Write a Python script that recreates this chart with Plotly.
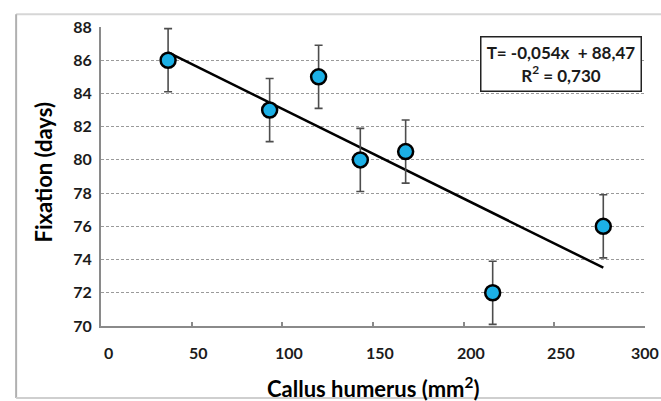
import plotly.graph_objects as go

# ---- data ----
callus_mm2 = [37, 93, 120, 143, 168, 216, 277]
fixation_days = [86.0, 83.0, 85.0, 80.0, 80.5, 72.0, 76.0]
error_days = [1.9, 1.9, 1.9, 1.9, 1.9, 1.9, 1.9]
fit_slope = -0.054
fit_intercept = 88.47
fit_r2 = 0.730
x_ticks = [0, 50, 100, 150, 200, 250, 300]
y_ticks = [70, 72, 74, 76, 78, 80, 82, 84, 86, 88]

FONT = "Lato"
TXT = "#1b1b1b"

fit_x = [min(callus_mm2), max(callus_mm2)]
fit_y = [fit_intercept + fit_slope * v for v in fit_x]

fig = go.Figure()
fig.add_trace(go.Scatter(
    x=fit_x, y=fit_y, mode="lines",
    line=dict(color="black", width=2.5), showlegend=False, hoverinfo="skip"))
fig.add_trace(go.Scatter(
    x=callus_mm2, y=fixation_days, mode="markers",
    marker=dict(size=15, color="#1cb0e6", line=dict(color="black", width=2.5)),
    error_y=dict(type="data", array=error_days, visible=True,
                 color="#4d4d4d", thickness=1.6, width=4),
    showlegend=False))

eq_text = (f"T= {fit_slope:.3f}x  + {fit_intercept:.2f}".replace(".", ",")
           + "<br>R<sup>2</sup> = " + f"{fit_r2:.3f}".replace(".", ","))

fig.add_annotation(
    xref="paper", yref="paper", x=0.8465, y=0.8746,
    xanchor="center", yanchor="middle",
    text=eq_text, showarrow=False, align="center",
    font=dict(family=FONT, size=17, color=TXT, weight="bold"),
    bordercolor="#222", borderwidth=1.5, borderpad=2, bgcolor="white",
    width=155, height=49)

# x tick labels drawn as annotations (shifted right like the reference)
for v in x_ticks:
    fig.add_annotation(
        x=v, y=0, xref="x", yref="paper", yshift=-26,
        xshift=7 if v < max(x_ticks) else 0,
        text=str(v), showarrow=False, xanchor="center", yanchor="middle",
        font=dict(family=FONT, size=16, color=TXT, weight="bold"))

# axis titles
fig.add_annotation(
    xref="paper", yref="paper", x=0.5, y=-0.205, xanchor="center", yanchor="middle",
    text="Callus humerus (mm<sup>2</sup>)", showarrow=False,
    font=dict(family=FONT, size=22, color="black", weight="bold"))
fig.add_annotation(
    xref="paper", yref="paper", x=-0.105, y=0.513, xanchor="center", yanchor="middle",
    text="Fixation (days)", showarrow=False, textangle=-90,
    font=dict(family=FONT, size=22, color="black", weight="bold"))

# outer chart frame (decoration)
fig.add_shape(type="line", xref="paper", yref="paper", x0=-0.156, x1=1.05,
              y0=1.043, y1=1.043, line=dict(color="#d6d6d6", width=2))
fig.add_shape(type="line", xref="paper", yref="paper", x0=-0.156, x1=-0.156,
              y0=1.043, y1=-0.241, line=dict(color="#b0b0b0", width=2))
fig.add_shape(type="line", xref="paper", yref="paper", x0=-0.156, x1=1.05,
              y0=-0.241, y1=-0.241, line=dict(color="#cfcfcf", width=2))

fig.update_layout(
    width=661, height=401,
    margin=dict(l=101, r=16, t=27, b=75, autoexpand=False),
    paper_bgcolor="white", plot_bgcolor="white",
    font=dict(family=FONT, color=TXT),
    xaxis=dict(
        range=[0, 300], tickvals=x_ticks, showgrid=False, zeroline=False,
        showline=True, linecolor="#8a8a8a", linewidth=2,
        ticks="inside", ticklen=4, tickcolor="#8a8a8a", tickwidth=1.5,
        showticklabels=False, automargin=False),
    yaxis=dict(
        range=[70, 88], tickvals=y_ticks, zeroline=False,
        showgrid=True, gridcolor="#9a9a9a", gridwidth=1, griddash="3px,2px",
        showline=True, linecolor="#8a8a8a", linewidth=2, ticks="",
        ticklabelstandoff=4, automargin=False,
        tickfont=dict(family=FONT, size=16, color=TXT, weight="bold")),
)

fig.write_html("out.html", config={"displayModeBar": False},
               post_script="document.body.style.margin='0';document.body.style.padding='0';")
